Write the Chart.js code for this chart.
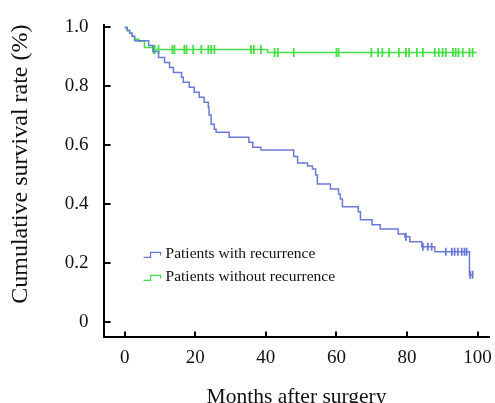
<!DOCTYPE html>
<html>
<head>
<meta charset="utf-8">
<script src="https://cdn.jsdelivr.net/npm/chart.js@4.4.1/dist/chart.umd.min.js"></script>
<style>
    html, body { margin: 0; padding: 0; background: #fff; overflow: hidden; }
    #wrap { position: relative; width: 501px; height: 410px; }
</style>
</head>
<body>
<div id="wrap"><canvas id="kmChart"></canvas></div>
<script>
// Axis ticks
const xTicks = [0, 20, 40, 60, 80, 100];
const yTicks = [0, 0.2, 0.4, 0.6, 0.8, 1.0];

const seriesLabels = ["Patients with recurrence", "Patients without recurrence"];

// Kaplan-Meier steps: [month, survival after the event]
const withRecurrence = [
    [0, 1.0], [0.7, 0.99], [1.4, 0.98], [2.1, 0.97], [2.8, 0.955],
    [6.8, 0.939], [8.0, 0.918], [9.6, 0.898], [11.3, 0.881], [12.7, 0.864],
    [13.8, 0.847], [16.1, 0.831], [16.6, 0.814], [18.3, 0.797], [19.7, 0.780],
    [21.1, 0.763], [22.5, 0.746], [23.7, 0.729], [23.9, 0.702], [24.5, 0.671],
    [25.4, 0.654], [25.9, 0.644], [29.6, 0.627], [35.2, 0.610], [36.3, 0.593],
    [38.6, 0.583], [47.9, 0.561], [49.0, 0.539], [51.8, 0.529], [53.2, 0.519],
    [54.1, 0.498], [54.6, 0.468], [58.3, 0.451], [60.6, 0.434], [61.1, 0.417],
    [61.7, 0.390], [66.2, 0.373], [66.8, 0.346], [70.1, 0.329], [72.4, 0.315],
    [77.5, 0.298], [79.4, 0.288], [80.8, 0.271], [84.2, 0.254], [87.9, 0.237],
    [97.7, 0.159], [98.6, 0.159]
];
const withoutRecurrence = [
    [0, 1.0], [0.7, 0.99], [1.4, 0.98], [2.1, 0.97], [2.8, 0.96],
    [4.0, 0.953], [5.6, 0.932], [8.0, 0.925], [40.5, 0.915], [99.7, 0.915]
];

// Censored observations (months)
const censorWith = [79.7, 84.5, 85.9, 87.0, 91.0, 92.7, 93.5, 94.4, 95.5, 96.3, 96.9, 97.9, 98.6];
const censorWithout = [
    8.2, 8.5, 9.6, 13.5, 14.1, 16.9, 17.5, 19.4, 21.7, 23.7, 24.5, 25.4,
    35.8, 36.6, 38.6, 42.5, 43.4, 47.9, 60.0, 60.6, 69.9, 71.8, 73.0, 74.9,
    77.7, 79.7, 80.6, 82.8, 84.5, 87.9, 89.0, 90.1, 91.0, 93.0, 93.8, 94.6,
    95.8, 97.7, 98.6
];

const blue = "rgb(105, 122, 214)";
const green = "rgb(70, 222, 70)";
const serif = '"Liberation Serif", "DejaVu Serif", serif';

function survivalAt(steps, month) {
    let s = steps[0][1];
    steps.forEach(([m, v]) => { if (m <= month) s = v; });
    return s;
}

function toPoints(steps) {
    return steps.map(([m, v]) => ({ x: m, y: v }));
}

function censorPoints(steps, months) {
    return months.map((m) => ({ x: m, y: survivalAt(steps, m) }));
}

// Inward tick marks on both axes
const innerTicks = {
    id: "innerTicks",
    afterDraw(chart) {
        const { ctx, chartArea, scales } = chart;
        ctx.save();
        ctx.strokeStyle = "#000";
        ctx.lineWidth = 2;
        ctx.beginPath();
        xTicks.forEach((t) => {
            const px = Math.round(scales.x.getPixelForValue(t));
            ctx.moveTo(px, chartArea.bottom);
            ctx.lineTo(px, chartArea.bottom - 6);
        });
        yTicks.forEach((t) => {
            const py = Math.round(scales.y.getPixelForValue(t));
            ctx.moveTo(chartArea.left, py);
            ctx.lineTo(chartArea.left + 7, py);
        });
        ctx.stroke();
        ctx.restore();
    },
};

// Legend placed inside the plot, with step-shaped keys
const insideLegend = {
    id: "insideLegend",
    afterDraw(chart) {
        const { ctx, chartArea } = chart;
        const colors = [blue, green];
        ctx.save();
        ctx.font = "15.5px " + serif;
        ctx.textBaseline = "middle";
        seriesLabels.forEach((label, i) => {
            const x0 = chartArea.left + 40;
            const y0 = chartArea.bottom - 83 + i * 23;
            ctx.strokeStyle = colors[i];
            ctx.lineWidth = 1.3;
            ctx.beginPath();
            ctx.moveTo(x0, y0 + 3);
            ctx.lineTo(x0 + 7, y0 + 3);
            ctx.lineTo(x0 + 7, y0 - 2);
            ctx.lineTo(x0 + 17, y0 - 2);
            ctx.lineTo(x0 + 17, y0 + 1);
            ctx.stroke();
            ctx.fillStyle = "#111";
            ctx.fillText(label, x0 + 22, y0);
        });
        ctx.restore();
    },
};

document.addEventListener("DOMContentLoaded", function () {
    const ctx = document.getElementById("kmChart").getContext("2d");
    new Chart(ctx, {
        type: "line",
        data: {
            datasets: [
                {
                    label: seriesLabels[0],
                    data: toPoints(withRecurrence),
                    borderColor: blue,
                    borderWidth: 1.5,
                    stepped: "before",
                    pointRadius: 0,
                },
                {
                    label: seriesLabels[1],
                    data: toPoints(withoutRecurrence),
                    borderColor: green,
                    borderWidth: 1.5,
                    stepped: "before",
                    pointRadius: 0,
                },
                {
                    label: "censored-with",
                    data: censorPoints(withRecurrence, censorWith),
                    showLine: false,
                    pointStyle: "line",
                    rotation: 90,
                    pointRadius: 4,
                    pointBorderWidth: 1.8,
                    borderColor: blue,
                },
                {
                    label: "censored-without",
                    data: censorPoints(withoutRecurrence, censorWithout),
                    showLine: false,
                    pointStyle: "line",
                    rotation: 90,
                    pointRadius: 4.5,
                    pointBorderWidth: 1.8,
                    borderColor: green,
                },
            ],
        },
        options: {
            responsive: true,
            maintainAspectRatio: false,
            animation: false,
            layout: {
                padding: { top: 0, right: 0, left: 6, bottom: 0 },
            },
            scales: {
                x: {
                    type: "linear",
                    min: -6,
                    max: 103.4,
                    afterBuildTicks: (axis) => { axis.ticks = xTicks.map((v) => ({ value: v })); },
                    grid: { display: false, drawTicks: false },
                    border: { display: true, color: "#000", width: 2 },
                    ticks: {
                        color: "#111",
                        padding: 9,
                        font: { family: serif, size: 19 },
                    },
                    title: {
                        display: true,
                        text: "Months after surgery",
                        color: "#111",
                        font: { family: serif, size: 21.5 },
                        padding: { top: 6, bottom: 0 },
                    },
                },
                y: {
                    min: -0.054,
                    max: 1.01,
                    afterBuildTicks: (axis) => { axis.ticks = yTicks.map((v) => ({ value: v })); },
                    grid: { display: false, drawTicks: false },
                    border: { display: true, color: "#000", width: 2 },
                    ticks: {
                        color: "#111",
                        padding: 15,
                        font: { family: serif, size: 19, lineHeight: 1 },
                        callback: (v) => (v === 0 ? "0" : v.toFixed(1)),
                    },
                    title: {
                        display: true,
                        text: "Cumulative survival rate (%)",
                        color: "#111",
                        align: "end",
                        font: { family: serif, size: 24 },
                        padding: { top: 0, bottom: 15 },
                    },
                },
            },
            plugins: {
                legend: { display: false },
                tooltip: { enabled: false },
            },
        },
        plugins: [innerTicks, insideLegend],
    });
});
</script>
</body>
</html>
